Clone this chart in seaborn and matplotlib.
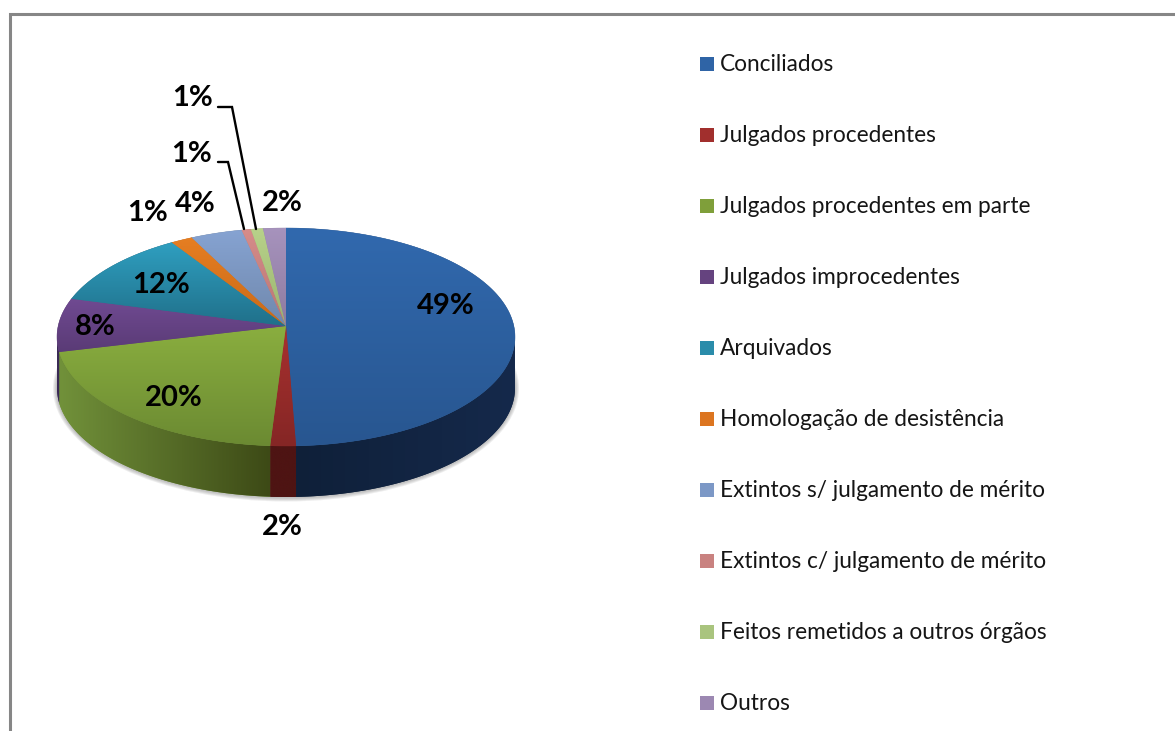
import numpy as np
import pandas as pd
import matplotlib
matplotlib.use('Agg')
import matplotlib.pyplot as plt
from matplotlib.colors import LinearSegmentedColormap
from matplotlib.patches import Ellipse
import seaborn as sns

# Dados
categorias = ['Conciliados', 'Julgados procedentes', 'Julgados procedentes em parte',
              'Julgados improcedentes', 'Arquivados', 'Homologação de desistência',
              'Extintos s/ julgamento de mérito', 'Extintos c/ julgamento de mérito',
              'Feitos remetidos a outros órgãos', 'Outros']
# fatias como aparecem no desenho (a perspectiva altera um pouco os rótulos)
fatias = [49.3, 1.8, 21.7, 7.9, 11.0, 1.55, 3.65, 0.65, 0.85, 1.6]
rotulos = ['49%', '2%', '20%', '8%', '12%', '1%', '4%', '1%', '1%', '2%']

# Cores
cores_topo = ['#3169ae', '#a8312f', '#8aae3f', '#704a92', '#2f9fc0',
              '#e67e22', '#86a3d2', '#d68c8a', '#b8d28a', '#a793bd']
cores_base = ['#285690', '#852625', '#6b8a32', '#5a3b76', '#20708a',
              '#c96a18', '#7088ac', '#b87674', '#9ab370', '#8d7ba0']
cores_lado = {0: ('#0f2039', '#15294b'), 1: ('#4e1413', '#4e1413'),
              2: ('#71913a', '#3d4a16'), 3: ('#3a2a55', '#3a2a55')}
cor_legenda = ['#2f64a6', '#a12f2d', '#7f9f3a', '#65437f', '#2a8caa',
               '#dc7520', '#7c98c6', '#c98280', '#a9c47e', '#9c88b2']

# Geometria em pixels da figura
W, H = 1175, 731
cx, cy, rx, ry = 286, 337, 229, 109
prof = 51 / ry
apice = 11 / ry  # o vértice das fatias fica acima do centro da elipse

pos_rotulos = [(446, 306), (282, 527), (174, 398), (95, 327), (161, 285),
               (148, 213), (195, 204), (192, 154), (193, 98), (282, 203)]
guias = [[(218, 162), (228, 162), (244, 229)], [(218, 107), (232, 107), (256, 229)]]
leg_y = [64, 135, 206, 277, 348, 419, 490, 561, 632, 703]

sns.set_theme(style='white')
plt.rcParams['font.family'] = ['Lato', 'DejaVu Sans']

fig = plt.figure(figsize=(W / 100, H / 100), dpi=100, facecolor='white')
ax = fig.add_axes([0, 0, 1, 1])


def gradiente(patch, extent, c1, c2, vertical=True, z=2):
    cmap = LinearSegmentedColormap.from_list('g', [c1, c2])
    g = np.linspace(0, 1, 200)
    g = g.reshape(-1, 1) if vertical else g.reshape(1, -1)
    im = ax.imshow(g, extent=extent, origin='upper', aspect='auto', cmap=cmap,
                   vmin=0, vmax=1, zorder=z)
    im.set_clip_path(patch)


# Sombra suave sob o disco
for k in [4, 3, 2, 1]:
    ax.add_patch(Ellipse((0, -prof - 0.5 / ry), 2 + 2 * k / rx, 2 + 2 * k / ry,
                         fc='#555555', ec='none', alpha=0.1, zorder=0))

wedges, _ = ax.pie(fatias, startangle=90, counterclock=False, radius=1, colors=cores_topo,
                   center=(0, 0), wedgeprops={'linewidth': 0, 'zorder': 1.5})
ax.set_aspect('auto')

# Parede lateral
for i, w in enumerate(wedges):
    a, b = max(w.theta1, -180), min(w.theta2, 0)
    if b <= a:
        continue
    t = np.radians(np.linspace(a, b, 120))
    xs, ys = np.cos(t), np.sin(t)
    px = np.r_[xs, xs[::-1]]
    py = np.r_[ys, ys[::-1] - prof]
    p = ax.fill(px, py, color=cores_lado[i][0], lw=0, zorder=1)[0]
    gradiente(p, (xs.min(), xs.max(), py.min(), py.max()),
              cores_lado[i][0], cores_lado[i][1], vertical=False, z=1.2)

# Face superior: o arco vem da fatia do pie, o vértice sobe por causa da perspectiva
for i, w in enumerate(wedges):
    w.set_visible(False)
    t = np.radians(np.linspace(w.theta1, w.theta2, 200))
    xs = np.r_[np.cos(t), 0]
    ys = np.r_[np.sin(t), apice]
    face = ax.fill(xs, ys, color=cores_base[i], lw=0.3, zorder=1.5)[0]
    gradiente(face, (xs.min(), xs.max(), ys.min(), ys.max()), cores_topo[i], cores_base[i])

ax.set_xlim(-cx / rx, (W - cx) / rx)
ax.set_ylim((cy - H) / ry, cy / ry)

# Camada em pixels para textos, legenda e moldura
top = fig.add_axes([0, 0, 1, 1], facecolor='none')

leg = pd.DataFrame({'x': [707] * len(categorias), 'y': leg_y, 'cat': categorias})
sns.scatterplot(data=leg, x='x', y='y', hue='cat', palette=cor_legenda, marker='s', s=100,
                linewidth=0, legend=False, ax=top)
top.set_xlim(0, W)
top.set_ylim(H, 0)
top.axis('off')

for nome, y in zip(categorias, leg_y):
    top.text(720, y + 7, nome, fontsize=16.3, color='#151515', va='baseline', ha='left')

for txt, (x, y) in zip(rotulos, pos_rotulos):
    top.text(x, y, txt, fontsize=21, fontweight='bold', color='black', va='center', ha='center')

for g in guias:
    top.plot([p[0] for p in g], [p[1] for p in g], color='black', lw=1.7, solid_joinstyle='miter')

top.plot([9.5, 9.5, W], [H, 13.5, 13.5], color='#868686', lw=2.2, solid_joinstyle='miter',
         clip_on=False)

fig.savefig('out.png', dpi=100)
